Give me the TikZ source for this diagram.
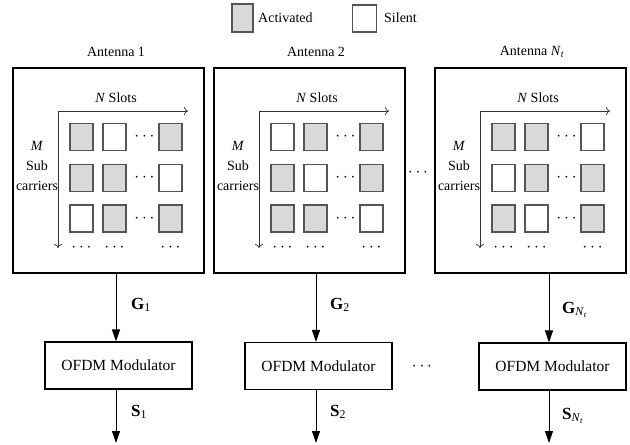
\documentclass[tikz,border=0pt]{standalone}
\usepackage{fontspec}
\setmainfont{Liberation Serif}
\usetikzlibrary{arrows.meta}
\definecolor{cOn}{HTML}{D9D9D9}
\definecolor{cOff}{HTML}{FFFFFF}
\definecolor{sqline}{HTML}{555555}
\tikzset{
  antbox/.style={draw,line width=1.7pt,minimum width=191pt,minimum height=205pt,inner sep=0pt},
  modbox/.style={draw,line width=1.1pt,minimum width=147pt,minimum height=47pt,inner sep=0pt,font=\fontsize{15.5}{18}\selectfont},
  sq/.style={draw=sqline,line width=1.1pt,minimum width=23pt,minimum height=27pt,inner sep=0pt},
  txt/.style={font=\fontsize{14}{20}\selectfont,inner sep=0pt,align=center},
  lbl/.style={font=\fontsize{17}{20}\selectfont,inner sep=0pt,anchor=west},
  dotsn/.style={font=\fontsize{16}{18}\selectfont,inner sep=0pt},
  big/.style={-{Triangle[length=12pt,width=8pt]},line width=0.9pt},
  axisarr/.style={-{To[length=4pt,width=8pt]},line width=0.7pt,draw=black!80},
}
\newcommand\antgrid[3]{%
  \node[antbox] (#1box) at (108.5+#2,170.5) {};
  \coordinate (#1o) at (58+#2,111);
  \coordinate (#1h) at (188+#2,111);
  \coordinate (#1v) at (58+#2,248);
  \draw[axisarr] (#1o) -- (#1h);
  \draw[axisarr] (#1o) -- (#1v);
  \node[txt] (#1ns) at (116+#2,98) {\textit{N} Slots};
  \node[txt] (#1ms) at (37+#2,166) {\textit{M}\\Sub\\carriers};
  \foreach \s [count=\i from 0] in {#3} {
    \pgfmathtruncatemacro\rr{floor(\i/3)}
    \pgfmathtruncatemacro\cc{mod(\i,3)}
    \pgfmathsetmacro\xx{#2+81.5+33*(\cc==1)+89*(\cc==2)}
    \pgfmathsetmacro\yy{137+41*(\rr==1)+81.5*(\rr==2)}
    \node[sq,fill=\s] (#1s\rr\cc) at (\xx,\yy) {};
  }
  \foreach \r/\y in {0/137,1/178,2/218.5} {
    \node[dotsn] (#1d\r) at (144.5+#2,\y) {$\cdots$};
  }
  \foreach \c/\x in {0/81.5,1/114.5,2/170.5} {
    \node[dotsn] (#1b\c) at (\x+#2,248) {$\cdots$};
  }
}
\begin{document}
\begin{tikzpicture}[x=1pt,y=-1pt]
\useasboundingbox (0,0) rectangle (630,445);
% legend
\node[sq,fill=cOn,minimum width=21pt,minimum height=28pt] (legon) at (242.5,18) {};
\node[txt,anchor=west] (legontxt) at (258,18) {Activated};
\node[sq,fill=cOff,minimum width=24pt,minimum height=27pt] (legoff) at (364.5,18.5) {};
\node[txt,anchor=west] (legofftxt) at (384,18) {Silent};
% antenna boxes
\antgrid{a}{0}{cOn,cOff,cOn,cOn,cOn,cOff,cOff,cOn,cOn}
\antgrid{b}{201}{cOff,cOn,cOn,cOn,cOff,cOn,cOn,cOn,cOff}
\antgrid{c}{422}{cOn,cOn,cOff,cOff,cOn,cOn,cOn,cOff,cOn}
\node[txt] (at1) at (116,52) {Antenna 1};
\node[txt] (at2) at (316,52) {Antenna 2};
\node[txt] (at3) at (532,52) {Antenna \textit{N}\textsubscript{\textit{t}}};
\node[dotsn] (mid1) at (418,173) {$\cdots$};
% modulators
\node[modbox] (m1) at (118.5,365.5) {OFDM Modulator};
\node[modbox] (m2) at (318.5,366) {OFDM Modulator};
\node[modbox] (m3) at (552.5,366.5) {OFDM Modulator};
\node[dotsn] (mid2) at (422,367) {$\cdots$};
% arrows
\coordinate (x1) at (116,0);
\coordinate (x2) at (316,0);
\coordinate (x3) at (549,0);
\coordinate (o1) at (116,443);
\coordinate (o2) at (316,443);
\coordinate (o3) at (549,443);
\draw[big] (abox.south -| x1) -- (m1.north -| x1);
\draw[big] (bbox.south -| x2) -- (m2.north -| x2);
\draw[big] (cbox.south -| x3) -- (m3.north -| x3);
\draw[big] (m1.south -| x1) -- (o1);
\draw[big] (m2.south -| x2) -- (o2);
\draw[big] (m3.south -| x3) -- (o3);
\node[lbl] (g1) at (131,305) {\textbf{G}\textsubscript{1}};
\node[lbl] (g2) at (330,305) {\textbf{G}\textsubscript{2}};
\node[lbl] (g3) at (562,310) {\textbf{G}\textsubscript{\textit{N}\textsubscript{\textit{t}}}};
\node[lbl] (s1) at (131,412) {\textbf{S}\textsubscript{1}};
\node[lbl] (s2) at (330,412) {\textbf{S}\textsubscript{2}};
\node[lbl] (s3) at (562,416) {\textbf{S}\textsubscript{\textit{N}\textsubscript{\textit{t}}}};
\end{tikzpicture}
\end{document}
